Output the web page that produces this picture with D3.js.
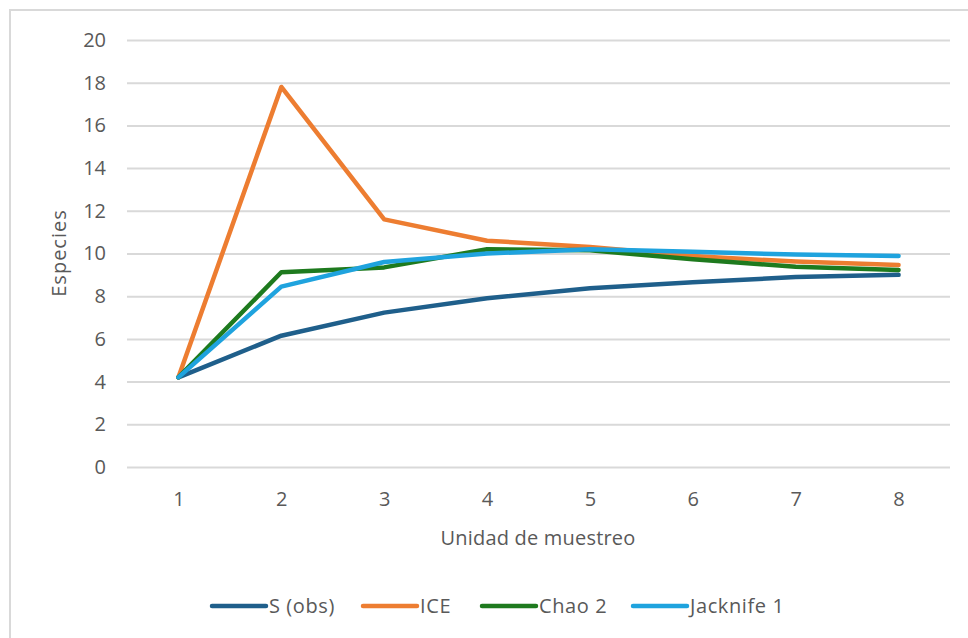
<!DOCTYPE html>
<html><head><meta charset="utf-8">
<script src="https://cdn.jsdelivr.net/npm/d3@7"></script>
<style>body{margin:0;background:#fff}svg{display:block}text{font-family:"Open Sans",sans-serif;fill:#595959}</style>
</head><body><svg id="c" width="968" height="638"></svg>
<script>
const categories = [1,2,3,4,5,6,7,8];
const sObs     = [4.2, 6.15, 7.23, 7.9, 8.37, 8.65, 8.9, 9.0];
const ice      = [4.2, 17.8, 11.6, 10.6, 10.3, 9.88, 9.62, 9.46];
const chao2    = [4.2, 9.12, 9.35, 10.2, 10.15, 9.73, 9.38, 9.23];
const jacknife = [4.2, 8.45, 9.6, 10.0, 10.2, 10.08, 9.95, 9.88];
const seriesNames = ["S (obs)", "ICE", "Chao 2", "Jacknife 1"];
const yTicks = [0,2,4,6,8,10,12,14,16,18,20];
const colors = ["#1f5f8b", "#ed7d31", "#1e7a1e", "#1fa3de"];
const seriesData = [sObs, ice, chao2, jacknife];

const svg = d3.select("#c");
svg.append("rect").attr("x",10).attr("y",10).attr("width",980).attr("height",660)
  .attr("fill","none").attr("stroke","#d9d9d9").attr("stroke-width",2);

const L=127, R=950, T=40, B=467;
const x = d3.scalePoint().domain(categories).range([L,R]).padding(0.5);
const y = d3.scaleLinear().domain([0,20]).range([B,T]);

const yAxis = svg.append("g").attr("transform",`translate(${L},0)`)
  .call(d3.axisLeft(y).tickValues(yTicks).tickSize(-(R-L)).tickPadding(21));
yAxis.select(".domain").remove();
yAxis.selectAll(".tick line").attr("stroke","#d9d9d9").attr("stroke-width",2);
yAxis.selectAll(".tick text").style("font-size","20px").attr("fill","#595959");

const xAxis = svg.append("g").attr("transform",`translate(0,${B})`)
  .call(d3.axisBottom(x).tickSize(0).tickPadding(25));
xAxis.select(".domain").remove();
xAxis.selectAll(".tick text").style("font-size","20px").attr("fill","#595959");

svg.append("text").attr("x",538).attr("y",545).attr("text-anchor","middle")
  .style("font-size","20px").style("letter-spacing","0.2px").text("Unidad de muestreo");
svg.append("text").attr("transform","translate(66,253) rotate(-90)").attr("text-anchor","middle")
  .style("font-size","20px").style("letter-spacing","1px").text("Especies");

const line = d3.line().x((d,i)=>x(categories[i])).y(d=>y(d));
seriesData.forEach((s,i)=>{
  svg.append("path").datum(s).attr("d",line).attr("fill","none")
    .attr("stroke",colors[i]).attr("stroke-width",4.5).attr("stroke-linejoin","round").attr("stroke-linecap","round");
});

const legX = [212, 363, 482, 633];
seriesNames.forEach((n,i)=>{
  const g = svg.append("g").attr("transform",`translate(${legX[i]},606)`);
  g.append("line").attr("x1",0).attr("x2",54).attr("stroke",colors[i]).attr("stroke-width",4.5).attr("stroke-linecap","round");
  g.append("text").attr("x",57).attr("y",7).style("font-size","20px").style("letter-spacing","0.6px").text(n);
});
</script></body></html>
